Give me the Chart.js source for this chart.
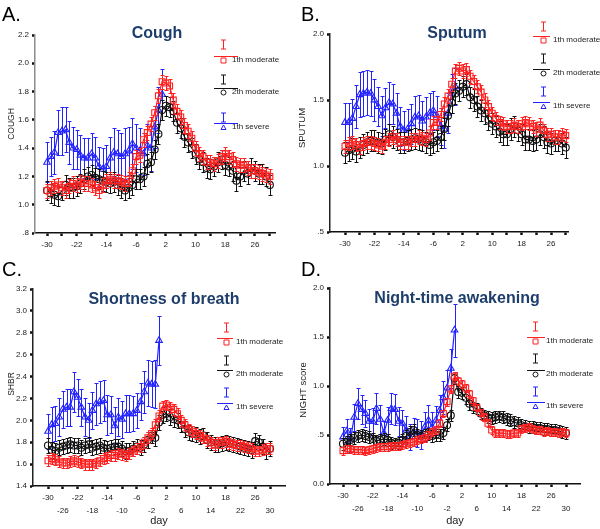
<!DOCTYPE html>
<html>
<head>
<meta charset="utf-8">
<script src="https://cdn.jsdelivr.net/npm/chart.js@4.4.0/dist/chart.umd.min.js"></script>
<style>
  html, body { margin: 0; padding: 0; background: #fff; }
  #wrap { position: relative; width: 600px; height: 529px; overflow: hidden; }
  #wrap canvas { position: absolute; }
</style>
</head>
<body>
<div id="wrap">
  <canvas id="cA"></canvas>
  <canvas id="cB"></canvas>
  <canvas id="cC"></canvas>
  <canvas id="cD"></canvas>
</div>
<script>
// ---- data ----
const days = [-30,-29,-28,-27,-26,-25,-24,-23,-22,-21,-20,-19,-18,-17,-16,-15,-14,-13,-12,-11,
  -10,-9,-8,-7,-6,-5,-4,-3,-2,-1,0,1,2,3,4,5,6,7,8,9,10,11,12,13,14,15,16,17,18,19,20,
  21,22,23,24,25,26,27,28,29,30];
const xTicks = [-30,-26,-22,-18,-14,-10,-6,-2,2,6,10,14,18,22,26,30];
const seriesNames = ['1th moderate', '2th moderate', '1th severe'];

// A. Cough
const coughTicks = [0.8, 1.0, 1.2, 1.4, 1.6, 1.8, 2.0, 2.2];
const coughRed = [1.10,1.12,1.13,1.14,1.12,1.10,1.13,1.15,1.14,1.16, 1.15,1.15,1.14,1.12,1.10,1.14,1.17,1.18,1.17,1.17,
  1.16,1.15,1.18,1.24,1.34,1.35,1.46,1.51,1.57,1.65, 1.77,1.87,1.86,1.84,1.74,1.66,1.62,1.56,1.52,1.47,
  1.40,1.36,1.34,1.30,1.30,1.29,1.31,1.34,1.36,1.34, 1.32,1.29,1.28,1.28,1.26,1.24,1.24,1.23,1.22,1.21,1.20];
const coughBlack = [1.10,1.08,1.07,1.06,1.10,1.14,1.12,1.12,1.13,1.15, 1.18,1.20,1.21,1.19,1.18,1.17,1.16,1.15,1.16,1.14,
  1.12,1.10,1.12,1.14,1.18,1.18,1.20,1.29,1.30,1.39, 1.50,1.67,1.70,1.69,1.66,1.58,1.54,1.48,1.44,1.40,
  1.36,1.32,1.30,1.26,1.25,1.27,1.30,1.32,1.28,1.27, 1.24,1.17,1.20,1.24,1.22,1.26,1.24,1.22,1.22,1.20,1.14];
const coughBlue = [1.30,1.34,1.37,1.51,1.52,1.53,1.44,1.40,1.39,1.35, 1.33,1.33,1.36,1.33,1.27,1.25,1.27,1.33,1.37,1.36,
  1.34,1.36,1.38,1.43,1.40,1.38,1.36,1.42,1.40,1.55, 1.67,1.78];
const coughBlueErr = [0.14,0.14,0.15,0.16,0.17,0.16,0.15,0.15,0.14,0.14, 0.14,0.14,0.15,0.15,0.14,0.15,0.15,0.15,0.17,0.17,
  0.17,0.18,0.17,0.18,0.17,0.16,0.15,0.15,0.16,0.15, 0.16,0.18];

// B. Sputum
const sputumTicks = [0.5, 1.0, 1.5, 2.0];
const sputumRed = [1.15,1.17,1.18,1.16,1.14,1.17,1.18,1.18,1.17,1.16, 1.15,1.18,1.20,1.22,1.20,1.18,1.18,1.18,1.20,1.20,
  1.22,1.21,1.20,1.25,1.33,1.33,1.39,1.47,1.53,1.62, 1.72,1.74,1.72,1.73,1.68,1.64,1.60,1.56,1.50,1.45,
  1.40,1.36,1.33,1.32,1.30,1.30,1.31,1.30,1.32,1.33, 1.32,1.30,1.28,1.31,1.27,1.24,1.24,1.22,1.22,1.24,1.23];
const sputumBlack = [1.10,1.12,1.13,1.11,1.14,1.16,1.18,1.19,1.19,1.18, 1.17,1.20,1.24,1.22,1.20,1.18,1.18,1.19,1.20,1.21,
  1.20,1.19,1.18,1.16,1.18,1.19,1.22,1.28,1.38,1.48, 1.55,1.57,1.60,1.62,1.52,1.50,1.45,1.42,1.40,1.35,
  1.32,1.30,1.26,1.24,1.24,1.28,1.30,1.27,1.24,1.20, 1.20,1.19,1.20,1.24,1.22,1.18,1.17,1.19,1.19,1.17,1.14];
const sputumBlue = [1.33,1.33,1.36,1.45,1.54,1.55,1.56,1.55,1.50,1.45, 1.38,1.44,1.48,1.47,1.40,1.30,1.27,1.28,1.32,1.37,
  1.38,1.34,1.37,1.40,1.42,1.38,1.30,1.28,1.40,1.55, 1.60];
const sputumBlueErr = [0.15,0.15,0.15,0.16,0.17,0.17,0.17,0.17,0.16,0.15, 0.15,0.15,0.16,0.15,0.15,0.15,0.15,0.15,0.15,0.16,
  0.16,0.15,0.15,0.15,0.15,0.15,0.14,0.14,0.15,0.15, 0.14];

// C. Shortness of breath
const shbrTicks = [1.4, 1.6, 1.8, 2.0, 2.2, 2.4, 2.6, 2.8, 3.0, 3.2];
const shbrRed = [1.63,1.65,1.64,1.62,1.61,1.61,1.62,1.63,1.62,1.61, 1.60,1.60,1.60,1.61,1.63,1.65,1.66,1.68,1.68,1.70,
  1.69,1.68,1.70,1.72,1.74,1.76,1.80,1.84,1.88,1.96, 2.04,2.13,2.14,2.12,2.10,2.06,2.00,1.96,1.92,1.90,
  1.88,1.86,1.84,1.82,1.80,1.78,1.80,1.80,1.81,1.79, 1.78,1.77,1.77,1.76,1.75,1.74,1.72,1.72,1.73,1.74,1.74];
const shbrBlack = [1.77,1.73,1.72,1.75,1.76,1.77,1.78,1.77,1.77,1.75, 1.77,1.78,1.75,1.76,1.77,1.75,1.74,1.75,1.76,1.76,
  1.74,1.72,1.72,1.74,1.76,1.75,1.78,1.82,1.86,1.84, 1.98,2.05,2.06,2.03,2.01,2.00,1.96,1.92,1.89,1.88,
  1.87,1.85,1.86,1.82,1.80,1.78,1.78,1.79,1.80,1.79, 1.78,1.77,1.76,1.75,1.74,1.73,1.81,1.80,1.76,1.72,1.74];
const shbrBlue = [1.90,1.96,1.97,2.03,2.10,2.12,2.12,2.26,2.21,2.12, 2.03,2.00,2.09,2.15,2.17,2.18,2.05,2.05,1.95,2.03,
  2.01,2.06,2.06,2.06,2.09,2.17,2.26,2.34,2.33,2.33, 2.73];
const shbrBlueErr = [0.16,0.16,0.16,0.17,0.17,0.17,0.17,0.18,0.17,0.17, 0.17,0.16,0.17,0.19,0.19,0.19,0.18,0.17,0.17,0.17,
  0.17,0.17,0.17,0.16,0.16,0.17,0.19,0.21,0.21,0.22, 0.22];

// D. Night-time awakening
const nightTicks = [0.0, 0.5, 1.0, 1.5, 2.0];
const nightRed = [0.34,0.36,0.36,0.35,0.35,0.35,0.34,0.35,0.36,0.37, 0.38,0.38,0.38,0.39,0.39,0.39,0.40,0.41,0.42,0.43,
  0.45,0.46,0.47,0.50,0.53,0.55,0.62,0.72,0.84,0.97, 1.10,1.05,1.02,0.98,0.92,0.85,0.78,0.73,0.68,0.62,
  0.55,0.52,0.52,0.52,0.51,0.51,0.52,0.52,0.56,0.57, 0.58,0.56,0.55,0.55,0.53,0.54,0.53,0.53,0.52,0.53,0.52];
const nightBlack = [0.41,0.43,0.45,0.47,0.49,0.50,0.49,0.48,0.46,0.44, 0.45,0.46,0.45,0.42,0.41,0.42,0.45,0.49,0.53,0.55,
  0.50,0.49,0.50,0.51,0.49,0.50,0.50,0.52,0.60,0.70, 1.08,0.94,0.93,0.88,0.82,0.78,0.77,0.72,0.70,0.68,
  0.67,0.68,0.69,0.68,0.66,0.65,0.63,0.62,0.60,0.59, 0.58,0.58,0.57,0.57,0.56,0.56,0.55,0.55,0.54,0.53,0.52];
const nightBlue = [0.48,0.54,0.45,0.68,0.82,0.76,0.72,0.64,0.64,0.77, 0.66,0.52,0.65,0.77,0.76,0.64,0.62,0.55,0.48,0.53,
  0.52,0.50,0.58,0.65,0.58,0.65,0.75,0.88,0.98,1.18, 1.57];
const nightBlueErr = [0.10,0.12,0.12,0.14,0.16,0.15,0.14,0.13,0.14,0.16, 0.15,0.12,0.14,0.16,0.16,0.15,0.14,0.14,0.13,0.14,
  0.14,0.14,0.15,0.16,0.15,0.15,0.16,0.17,0.18,0.20, 0.27];

// ---- styles ----
const FONT = '"Liberation Sans", Arial, sans-serif';
const NAVY = '#1d3d6b';
const seriesColors = ['#ff2020', '#111111', '#2323ff'];
const pointStyles = ['rect', 'circle', 'triangle'];
const pointRadii = [4.2, 3.5, 3.8];

Chart.defaults.font.family = FONT;

const panels = [
  { id: 'cA', box: [0, 0, 300, 262], area: [35, 35, 275, 233], day0: 47, ppd: 3.714,
    yTicks: coughTicks, twoRow: false, yAxisColor: '#8c8c8c',
    letter: 'A.', letterPos: [2, 21], title: 'Cough', titlePos: [157, 34],
    yLabel: 'COUGH', yLabelPos: [12, 124], yLabelSize: 8.5,
    series: [coughRed, coughBlack, coughBlue], errs: [0.05, 0.07, coughBlueErr],
    legend: { ix: 223, x0: 214, x1: 238, tx: 232, rows: [[44, 56], [79, 88], [117, 123]] } },
  { id: 'cB', box: [290, 0, 310, 262], area: [330, 34, 568, 232], day0: 345, ppd: 3.679,
    yTicks: sputumTicks, twoRow: false, yAxisColor: '#222',
    letter: 'B.', letterPos: [301, 21], title: 'Sputum', titlePos: [457, 34],
    yLabel: 'SPUTUM', yLabelPos: [302, 128], yLabelSize: 9.5,
    series: [sputumRed, sputumBlack, sputumBlue], errs: [0.05, 0.08, sputumBlueErr],
    legend: { ix: 543, x0: 533, x1: 550, tx: 553, rows: [[26, 36], [58, 69], [91, 102]] } },
  { id: 'cC', box: [0, 250, 300, 279], area: [33, 289, 285, 486], day0: 48, ppd: 3.7,
    yTicks: shbrTicks, twoRow: true, yAxisColor: '#222',
    letter: 'C.', letterPos: [2, 276], title: 'Shortness of breath', titlePos: [164, 300],
    yLabel: 'SHBR', yLabelPos: [12, 384], yLabelSize: 8.5,
    series: [shbrRed, shbrBlack, shbrBlue], errs: [0.05, 0.07, shbrBlueErr],
    legend: { ix: 226, x0: 217, x1: 233, tx: 236, rows: [[327, 338], [360, 370], [392, 403]] } },
  { id: 'cD', box: [290, 250, 310, 279], area: [330, 288, 580, 484], day0: 343, ppd: 3.717,
    yTicks: nightTicks, twoRow: true, yAxisColor: '#222',
    letter: 'D.', letterPos: [301, 276], title: 'Night-time awakening', titlePos: [457, 299],
    yLabel: 'NIGHT score', yLabelPos: [303, 390], yLabelSize: 9.5,
    series: [nightRed, nightBlack, nightBlue], errs: [0.04, 0.06, nightBlueErr],
    legend: { ix: 535, x0: 527, x1: 545, tx: 546, rows: [[326, 337], [358, 370], [391, 402]] } }
];

// error bars drawn under each dataset's own line
const errorBars = {
  id: 'errorBars',
  beforeDatasetDraw(chart, args) {
    const ds = chart.data.datasets[args.index];
    if (ds.err == null) return;
    const { ctx, scales: { x, y } } = chart;
    ctx.save();
    ctx.strokeStyle = ds.borderColor;
    ctx.lineWidth = 1;
    ctx.beginPath();
    ds.data.forEach((p, i) => {
      const e = Array.isArray(ds.err) ? ds.err[i] : ds.err;
      const px = Math.round(x.getPixelForValue(p.x)) + 0.5;
      const y0 = Math.round(y.getPixelForValue(p.y - e)) + 0.5;
      const y1 = Math.round(y.getPixelForValue(p.y + e)) + 0.5;
      ctx.moveTo(px, y0); ctx.lineTo(px, y1);
      ctx.moveTo(px - 2, y0); ctx.lineTo(px + 2, y0);
      ctx.moveTo(px - 2, y1); ctx.lineTo(px + 2, y1);
    });
    ctx.stroke();
    ctx.restore();
  }
};

function drawMarker(ctx, style, x, y, r) {
  ctx.beginPath();
  if (style === 'rect') ctx.rect(x - r, y - r, 2 * r, 2 * r);
  else if (style === 'circle') ctx.arc(x, y, r, 0, Math.PI * 2);
  else { ctx.moveTo(x, y - r); ctx.lineTo(x + r, y + r * 0.8); ctx.lineTo(x - r, y + r * 0.8); ctx.closePath(); }
  ctx.stroke();
}

// panel letter, title, y label and the SPSS-style legend
function makeDeco(p) {
  const ox = p.box[0], oy = p.box[1];
  return {
    id: 'deco' + p.id,
    afterDraw(chart) {
      const ctx = chart.ctx;
      ctx.save();
      ctx.fillStyle = '#000';
      ctx.font = '20px ' + FONT;
      ctx.textAlign = 'left';
      ctx.textBaseline = 'alphabetic';
      ctx.fillText(p.letter, p.letterPos[0] - ox, p.letterPos[1] - oy);

      ctx.fillStyle = NAVY;
      ctx.font = 'bold 16px ' + FONT;
      ctx.textAlign = 'center';
      ctx.textBaseline = 'middle';
      ctx.fillText(p.title, p.titlePos[0] - ox, p.titlePos[1] - oy);

      ctx.save();
      ctx.translate(p.yLabelPos[0] - ox, p.yLabelPos[1] - oy);
      ctx.rotate(-Math.PI / 2);
      ctx.fillStyle = '#222';
      ctx.font = p.yLabelSize + 'px ' + FONT;
      ctx.fillText(p.yLabel, 0, 0);
      ctx.restore();

      const lg = p.legend;
      lg.rows.forEach(([iy, ly], k) => {
        const c = seriesColors[k];
        const ix = lg.ix - ox + 0.5, iyl = iy - oy + 0.5, lyl = ly - oy + 0.5;
        ctx.strokeStyle = c;
        ctx.lineWidth = 1;
        ctx.beginPath();
        ctx.moveTo(ix, iyl - 4.5); ctx.lineTo(ix, iyl + 4.5);
        ctx.moveTo(ix - 2.5, iyl - 4.5); ctx.lineTo(ix + 2.5, iyl - 4.5);
        ctx.moveTo(ix - 2.5, iyl + 4.5); ctx.lineTo(ix + 2.5, iyl + 4.5);
        ctx.moveTo(lg.x0 - ox, lyl); ctx.lineTo(lg.x1 - ox, lyl);
        ctx.stroke();
        drawMarker(ctx, pointStyles[k], ix, lyl + 4, 2.5);
        ctx.fillStyle = '#222';
        ctx.font = '8px ' + FONT;
        ctx.textAlign = 'left';
        ctx.textBaseline = 'middle';
        ctx.fillText(seriesNames[k], lg.tx - ox, ly - oy + 4);
      });
      ctx.restore();
    }
  };
}

const fmtY = v => (v > 0 && v < 1) ? v.toFixed(1).slice(1) : v.toFixed(1);

panels.forEach(p => {
  const [ox, oy, cw, ch] = p.box;
  const [L, T, R, B] = p.area;
  const cv = document.getElementById(p.id);
  cv.width = cw; cv.height = ch;
  cv.style.left = ox + 'px'; cv.style.top = oy + 'px';
  cv.style.width = cw + 'px'; cv.style.height = ch + 'px';

  const xMin = -30 - (p.day0 - L) / p.ppd;
  const xMax = -30 + (R - p.day0) / p.ppd;
  const yT = p.yTicks;

  new Chart(cv, {
    type: 'line',
    data: {
      datasets: p.series.map((vals, k) => ({
        label: seriesNames[k],
        data: vals.map((v, i) => ({ x: days[i], y: v })),
        err: p.errs[k],
        borderColor: seriesColors[k],
        borderWidth: 1.2,
        pointStyle: pointStyles[k],
        pointRadius: pointRadii[k],
        pointBorderWidth: 1.1,
        pointBorderColor: seriesColors[k],
        pointBackgroundColor: 'rgba(0,0,0,0)',
        tension: 0,
        clip: false
      }))
    },
    options: {
      responsive: false,
      animation: false,
      events: [],
      layout: { padding: { left: 0, top: T - oy, right: ox + cw - R, bottom: 0 } },
      plugins: { legend: { display: false }, tooltip: { enabled: false }, title: { display: false } },
      scales: {
        x: {
          type: 'linear', min: xMin, max: xMax,
          afterBuildTicks: s => { s.ticks = xTicks.map(v => ({ value: v })); },
          afterFit: s => { s.height = oy + ch - B; },
          ticks: {
            autoSkip: false, maxRotation: 0, padding: 2, color: '#222',
            font: { size: 8, lineHeight: 1.62 },
            callback: v => {
              const even = ((v + 30) / 4) % 2 === 0;
              if (!p.twoRow) return even ? String(v) : '';
              return even ? [String(v), ''] : ['', String(v)];
            }
          },
          grid: { drawOnChartArea: false, tickLength: 3, tickWidth: 2.5, tickColor: '#111' },
          border: { display: true, color: '#111', width: 1.5 },
          title: { display: p.twoRow, text: 'day', color: '#222', font: { size: 11 }, padding: { top: 0, bottom: 1 } }
        },
        y: {
          type: 'linear', min: yT[0], max: yT[yT.length - 1],
          afterBuildTicks: s => { s.ticks = yT.map(v => ({ value: v })); },
          afterFit: s => { s.width = L - ox; },
          ticks: { padding: 3, color: '#222', font: { size: 8 }, callback: v => fmtY(v) },
          grid: { drawOnChartArea: false, tickLength: 3, tickWidth: 2.5, tickColor: '#111' },
          border: { display: true, color: p.yAxisColor, width: 1.5 }
        }
      }
    },
    plugins: [errorBars, makeDeco(p)]
  });
});
</script>
</body>
</html>
